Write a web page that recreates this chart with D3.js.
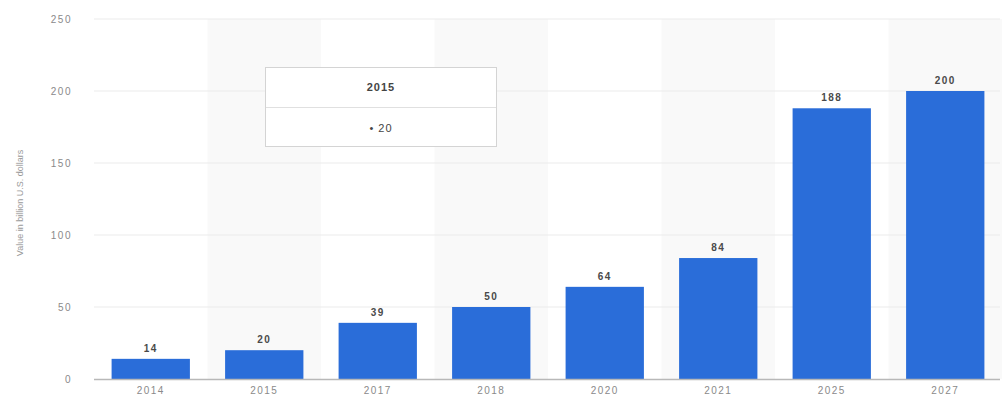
<!DOCTYPE html>
<html>
<head>
<meta charset="utf-8">
<script src="https://cdn.jsdelivr.net/npm/d3@7"></script>
<style>
  html, body { margin: 0; padding: 0; background: #fff; }
  svg { display: block; font-family: "Liberation Sans", Arial, sans-serif; }
</style>
</head>
<body>
<svg id="chart" width="1008" height="401"></svg>
<script>
// Market value by year (billion U.S. dollars)
const years = ["2014", "2015", "2017", "2018", "2020", "2021", "2025", "2027"];
const values = [14, 20, 39, 50, 64, 84, 188, 200];
const yTicks = [0, 50, 100, 150, 200, 250];
const axisTitle = "Value in billion U.S. dollars";
const tooltipYear = "2015";
const tooltipValue = 20;

const svg = d3.select("#chart");
const plotLeft = 94, plotRight = 1002, plotTop = 19, plotBottom = 379;

const x = d3.scaleBand()
  .domain(years)
  .range([plotLeft, plotRight])
  .paddingInner(0.31)
  .paddingOuter(0.155);

const y = d3.scaleLinear().domain([0, 250]).range([plotBottom, plotTop]);

const step = x.step();
const halfGap = x.paddingInner() * step / 2;

// alternating column shading
svg.append("g")
  .selectAll("rect")
  .data(years.filter((d, i) => i % 2 === 1))
  .join("rect")
  .attr("x", d => x(d) - halfGap)
  .attr("y", plotTop)
  .attr("width", step)
  .attr("height", plotBottom - plotTop)
  .attr("fill", "#f9f9f9");

// horizontal gridlines
svg.append("g")
  .selectAll("line")
  .data(yTicks.filter(t => t > 0))
  .join("line")
  .attr("x1", plotLeft)
  .attr("x2", plotRight - 2)
  .attr("y1", d => y(d))
  .attr("y2", d => y(d))
  .attr("stroke", "#ebebeb")
  .attr("stroke-width", 1);

// y axis labels
const yAxis = d3.axisLeft(y).tickValues(yTicks).tickSize(0).tickPadding(0);
const gy = svg.append("g")
  .attr("transform", `translate(${plotLeft - 22},0)`)
  .call(yAxis);
gy.select(".domain").remove();
gy.selectAll("text")
  .attr("fill", "#8a8a8a")
  .attr("font-size", 10)
  .attr("letter-spacing", 1.5);

// y axis title
svg.append("text")
  .attr("transform", `translate(23,${(plotTop + plotBottom) / 2 + 4}) rotate(-90)`)
  .attr("text-anchor", "middle")
  .attr("font-size", 9)
  .attr("fill", "#9a9a9a")
  .text(axisTitle);

const rows = years.map((d, i) => ({ year: d, value: values[i] }));

// bars
svg.append("g")
  .selectAll("rect")
  .data(rows)
  .join("rect")
  .attr("x", d => x(d.year))
  .attr("y", d => y(d.value))
  .attr("width", x.bandwidth())
  .attr("height", d => y(0) - y(d.value))
  .attr("fill", "#2a6dd9");

// value labels
svg.append("g")
  .selectAll("text")
  .data(rows)
  .join("text")
  .attr("x", d => x(d.year) + x.bandwidth() / 2)
  .attr("y", d => y(d.value) - 7)
  .attr("text-anchor", "middle")
  .attr("font-size", 10)
  .attr("font-weight", "bold")
  .attr("letter-spacing", 1.5)
  .attr("fill", "#4a4a4a")
  .text(d => d.value);

// baseline
svg.append("line")
  .attr("x1", plotLeft)
  .attr("x2", plotRight - 2)
  .attr("y1", y(0) + 0.5)
  .attr("y2", y(0) + 0.5)
  .attr("stroke", "#b8b8b8")
  .attr("stroke-width", 1.5);

// x axis labels
const xAxis = d3.axisBottom(x).tickSize(0).tickPadding(8);
const gx = svg.append("g")
  .attr("transform", `translate(0,${plotBottom})`)
  .call(xAxis);
gx.select(".domain").remove();
gx.selectAll("text")
  .attr("fill", "#8a8a8a")
  .attr("font-size", 10)
  .attr("letter-spacing", 1.5);

// hover tooltip
const tip = svg.append("g").attr("transform", "translate(265,67)");
tip.append("rect")
  .attr("x", 0.5).attr("y", 0.5)
  .attr("width", 231).attr("height", 79)
  .attr("fill", "#fff")
  .attr("stroke", "#d4d4d4");
tip.append("line")
  .attr("x1", 1).attr("x2", 231)
  .attr("y1", 40.5).attr("y2", 40.5)
  .attr("stroke", "#e0e0e0");
tip.append("text")
  .attr("x", 116).attr("y", 24)
  .attr("text-anchor", "middle")
  .attr("font-size", 11)
  .attr("font-weight", "bold")
  .attr("letter-spacing", 1)
  .attr("fill", "#444")
  .text(tooltipYear);
tip.append("text")
  .attr("x", 116).attr("y", 65)
  .attr("text-anchor", "middle")
  .attr("font-size", 11)
  .attr("letter-spacing", 1)
  .attr("fill", "#444")
  .text("• " + tooltipValue);
</script>
</body>
</html>
